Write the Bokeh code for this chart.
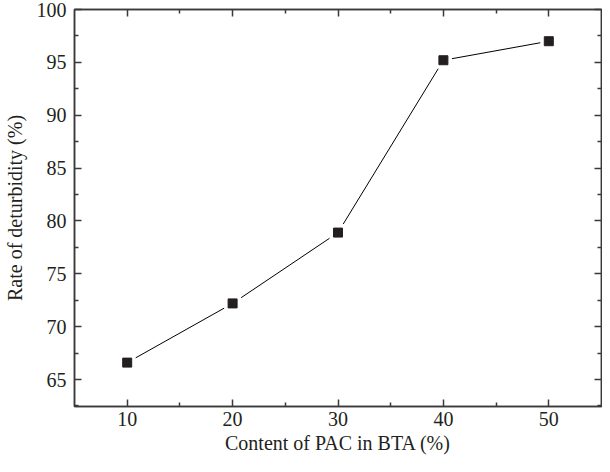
from bokeh.plotting import figure
from bokeh.models import LinearAxis, FixedTicker, Range1d, ColumnDataSource, CustomJSTickFormatter
from bokeh.embed import file_html
from bokeh.resources import INLINE

content_pac = [10, 20, 30, 40, 50]
deturbidity_rate = [66.6, 72.2, 78.9, 95.2, 97.0]
x_ticks = [10, 20, 30, 40, 50]
x_minor = [15, 25, 35, 45]
y_ticks = [65, 70, 75, 80, 85, 90, 95, 100]
y_minor = [62.5, 67.5, 72.5, 77.5, 82.5, 87.5, 92.5, 97.5]

FONT = "Liberation Serif"
AX = "#3a3a3a"
TXT = "#231f20"

src = ColumnDataSource(dict(x=content_pac, y=deturbidity_rate))

p = figure(width=602, height=456, output_backend="svg", toolbar_location=None,
           x_range=Range1d(5, 55), y_range=Range1d(62.45, 100))
p.min_border_left = 72
p.min_border_right = 1
p.min_border_top = 9
p.min_border_bottom = 50
p.grid.visible = False
p.outline_line_color = AX
p.outline_line_width = 1.5
p.background_fill_color = "white"
p.border_fill_color = "white"

p.line("x", "y", source=src, line_color="black", line_width=1)
p.scatter("x", "y", source=src, marker="square", size=17, fill_color="white", line_color=None)
p.scatter("x", "y", source=src, marker="square", size=9, fill_color=TXT, line_color=TXT)


def style(ax, labels=True):
    ax.axis_line_color = AX
    ax.axis_line_width = 1.5
    ax.major_tick_line_color = AX
    ax.minor_tick_line_color = AX
    ax.major_tick_line_width = 1.5
    ax.minor_tick_line_width = 1.5
    ax.major_tick_in = 7
    ax.major_tick_out = 0
    ax.minor_tick_in = 4
    ax.minor_tick_out = 0
    ax.major_label_text_font = FONT
    ax.major_label_text_font_size = "20px"
    ax.major_label_text_color = TXT
    ax.axis_label_text_font = FONT
    ax.axis_label_text_font_size = "20px"
    ax.axis_label_text_font_style = "normal"
    ax.axis_label_text_color = TXT
    if not labels:
        ax.formatter = CustomJSTickFormatter(code="return ''")
        ax.major_label_standoff = 0


p.xaxis.ticker = FixedTicker(ticks=x_ticks, minor_ticks=x_minor)
p.yaxis.ticker = FixedTicker(ticks=y_ticks, minor_ticks=y_minor)
style(p.xaxis[0])
style(p.yaxis[0])
p.xaxis.axis_label = "Content of PAC in BTA (%)"
p.yaxis.axis_label = "Rate of deturbidity (%)"
p.xaxis.major_label_standoff = 5
p.yaxis.major_label_standoff = 8
p.xaxis.axis_label_standoff = 3
p.yaxis.axis_label_standoff = 8

top = LinearAxis(ticker=FixedTicker(ticks=x_ticks, minor_ticks=x_minor))
style(top, labels=False)
p.add_layout(top, "above")
right = LinearAxis(ticker=FixedTicker(ticks=y_ticks, minor_ticks=y_minor))
style(right, labels=False)
p.add_layout(right, "right")

open("out.html", "w").write(file_html(p, INLINE))
